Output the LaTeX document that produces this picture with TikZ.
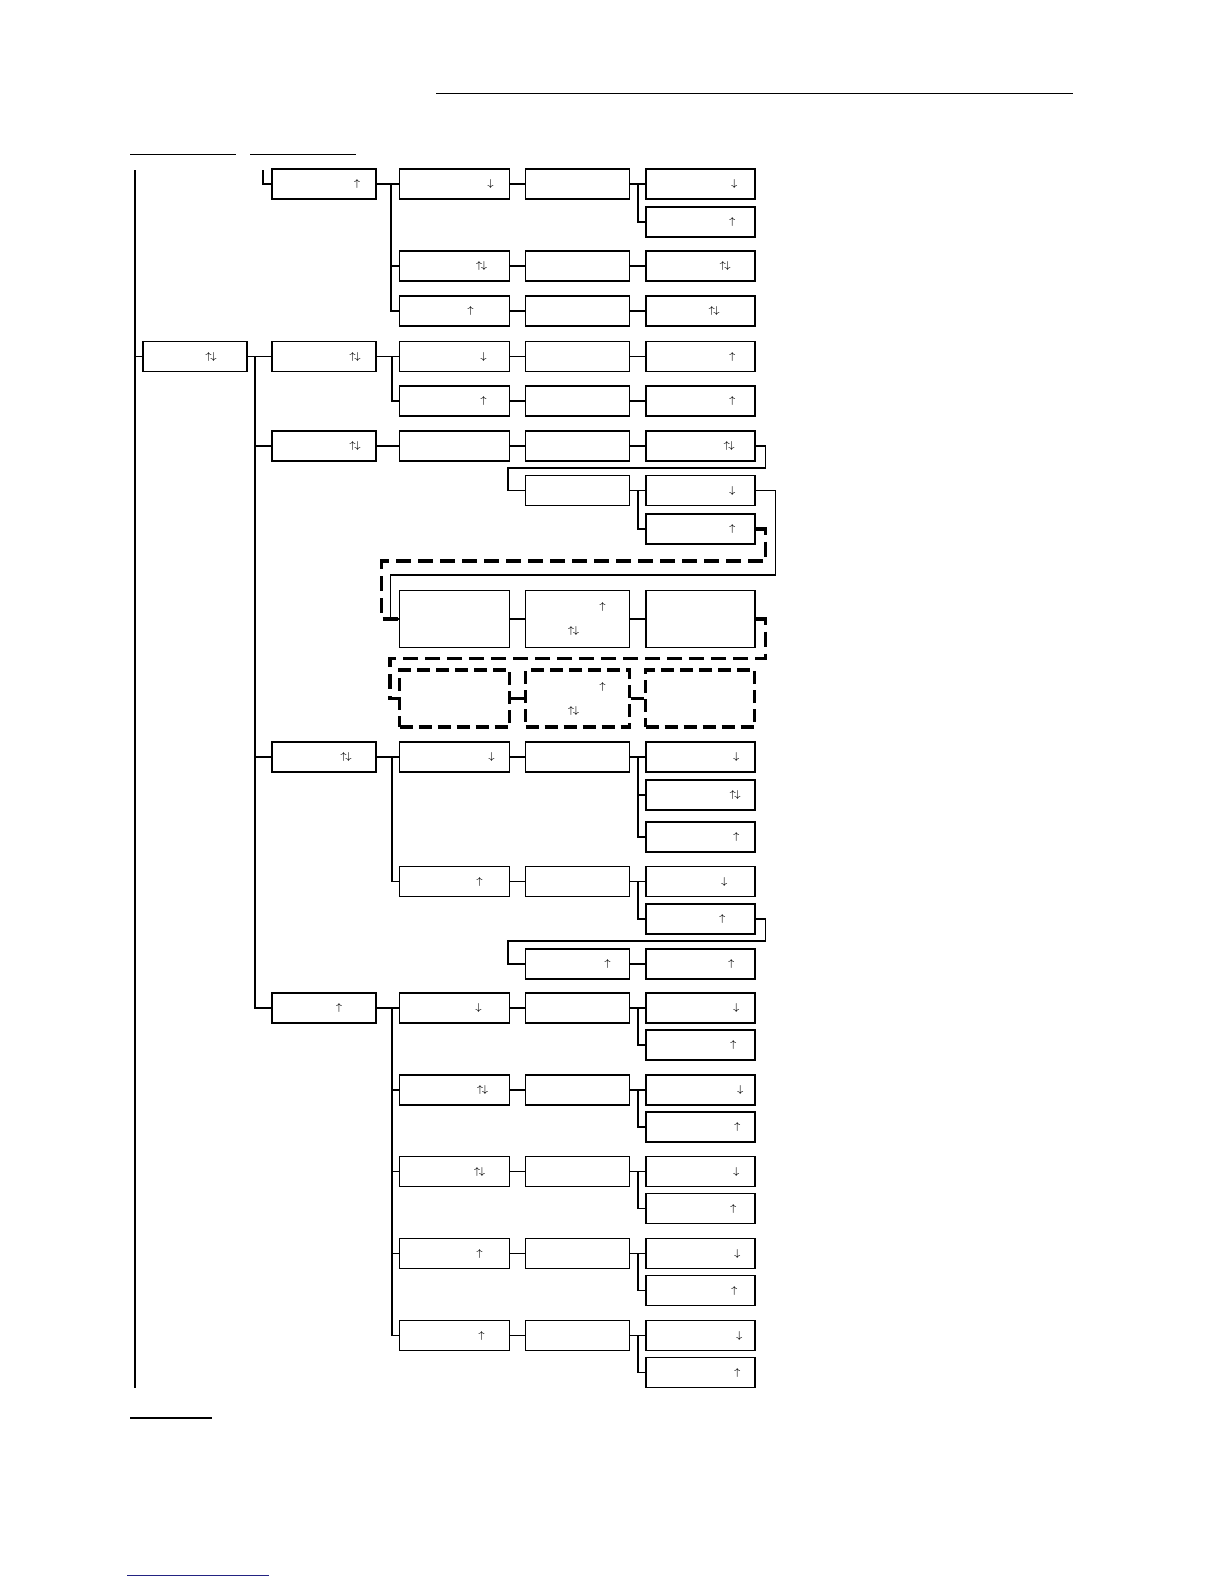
\documentclass[tikz,border=0pt]{standalone}
\usepackage{xcolor}
\usepackage{tikz}
\usetikzlibrary{arrows.meta,positioning}

\definecolor{linkblue}{RGB}{35,35,130}
\newcommand{\arrU}{$\uparrow$}
\newcommand{\arrD}{$\downarrow$}
\newcommand{\arrUD}{$\uparrow\!\downarrow$}
\newcommand{\keyarrow}[3]{\node[arw] (#1k) at ([xshift=#2*0.5pt]#1.center) {#3};}

\begin{document}
\begin{tikzpicture}[
  x=0.5pt, y=-0.5pt,
  menu/.style={draw, line width=0.9pt, minimum height=15pt,
    minimum width=52pt, inner sep=0pt},
  wide/.style={menu, minimum width=55pt},
  last/.style={menu, minimum width=54.5pt},
  tall/.style={minimum height=28.5pt},
  ghost/.style={line width=1.6pt, dash pattern=on 6.5pt off 3pt},
  arw/.style={font=\fontsize{5}{6}\selectfont, inner sep=0pt},
  link/.style={line width=0.6pt},
  bus/.style={line width=0.9pt},
  jump/.style={line width=1.6pt, dash pattern=on 7.5pt off 3.5pt},
  rule/.style={line width=0.5pt}
]
\useasboundingbox (0,0) rectangle (1224,1584);

\def\xA{195}
\def\xB{324}
\def\xC{454.5}
\def\xD{577.5}
\def\xE{700.2}

% Header rules
\coordinate (h1) at (436,94);   \coordinate (h2) at (1073,94);
\coordinate (h3) at (130,154);  \coordinate (h4) at (236,154);
\coordinate (h5) at (250,154);  \coordinate (h6) at (356,154);
\draw[rule] (h1) -- (h2);
\draw[rule] (h3) -- (h4);
\draw[rule] (h5) -- (h6);

% First branch
\coordinate (tk) at (263,170);
\node[menu] (b1) at (\xB,184) {};
\node[wide] (c1) at (\xC,184) {};
\node[menu] (d1) at (\xD,184) {};
\node[last] (e1) at (\xE,184) {};
\node[last] (e1b) at (\xE,222) {};
\node[wide] (c2) at (\xC,266) {};
\node[menu] (d2) at (\xD,266) {};
\node[last] (e2) at (\xE,266) {};
\node[wide] (c3) at (\xC,311) {};
\node[menu] (d3) at (\xD,311) {};
\node[last] (e3) at (\xE,311) {};

\keyarrow{b1}{33}{\arrU}
\keyarrow{c1}{36}{\arrD}
\keyarrow{e1}{34}{\arrD}
\keyarrow{e1b}{32}{\arrU}
\keyarrow{c2}{27}{\arrUD}
\keyarrow{e2}{25}{\arrUD}
\keyarrow{c3}{16}{\arrU}
\keyarrow{e3}{14}{\arrUD}

\coordinate (bus1) at (391,184);
\coordinate (dbus1) at (637.7,184);
\draw[link] (tk) |- (b1);
\draw[link] (b1) -- (c1);
\draw[bus] (bus1) |- (c2);
\draw[bus] (bus1) |- (c3);
\draw[link] (c1) -- (d1);
\draw[link] (d1) -- (e1);
\draw[bus] (dbus1) |- (e1b);
\draw[link] (c2) -- (d2);
\draw[link] (d2) -- (e2);
\draw[link] (c3) -- (d3);
\draw[link] (d3) -- (e3);

% Main menu
\coordinate (spinetop) at (135,170);
\coordinate (spinebot) at (135,1388);
\node[menu] (a) at (\xA,356.5) {};
\node[menu] (b2) at (\xB,356.5) {};
\node[wide] (c4) at (\xC,356.5) {};
\node[menu] (d4) at (\xD,356.5) {};
\node[last] (e4) at (\xE,356.5) {};
\node[wide] (c5) at (\xC,401) {};
\node[menu] (d5) at (\xD,401) {};
\node[last] (e5) at (\xE,401) {};

\keyarrow{a}{16}{\arrUD}
\keyarrow{b2}{31}{\arrUD}
\keyarrow{c4}{29}{\arrD}
\keyarrow{e4}{32}{\arrU}
\keyarrow{c5}{29}{\arrU}
\keyarrow{e5}{32}{\arrU}

\coordinate (abus) at (255,356.5);
\coordinate (bus2) at (392,356.5);
\draw[link] (spinetop) -- (spinebot);
\draw[link] (spinetop |- a) -- (a);
\draw[link] (a) -- (b2);
\draw[link] (b2) -- (c4);
\draw[bus] (bus2) |- (c5);
\draw[link] (c4) -- (d4);
\draw[link] (d4) -- (e4);
\draw[link] (c5) -- (d5);
\draw[link] (d5) -- (e5);

% Third branch with loops
\node[menu] (b3) at (\xB,446) {};
\node[wide] (c6) at (\xC,446) {};
\node[menu] (d6) at (\xD,446) {};
\node[last] (e6) at (\xE,446) {};
\node[menu] (d7) at (\xD,490.5) {};
\node[last] (e7) at (\xE,490.5) {};
\node[last] (e7b) at (\xE,529) {};
\node[wide, tall] (c8) at (\xC,619) {};
\node[menu, tall] (d8) at (\xD,619) {};
\node[last, tall] (e8) at (\xE,619) {};
\node[wide, tall, ghost] (c9) at (\xC,698.5) {};
\node[menu, tall, ghost] (d9) at (\xD,698.5) {};
\node[last, tall, ghost] (e9) at (\xE,698.5) {};

\keyarrow{b3}{31}{\arrUD}
\keyarrow{e6}{29}{\arrUD}
\keyarrow{e7}{32}{\arrD}
\keyarrow{e7b}{32}{\arrU}
\node[arw] (d8u) at ([xshift=12.5pt, yshift=6pt]d8.center) {\arrU};
\node[arw] (d8ud) at ([xshift=-2pt, yshift=-6pt]d8.center) {\arrUD};
\node[arw] (d9u) at ([xshift=12.5pt, yshift=6pt]d9.center) {\arrU};
\node[arw] (d9ud) at ([xshift=-2pt, yshift=-6pt]d9.center) {\arrUD};

\coordinate (dbus7) at (637.7,490.5);
\draw[link] (abus) |- (b3);
\draw[link] (b3) -- (c6);
\draw[link] (c6) -- (d6);
\draw[link] (d6) -- (e6);
\draw[link] (e6.east) -- ++(9.5,0) -- ++(0,22) -| ([xshift=-8.3pt]d7.west) -- (d7.west);
\draw[link] (d7) -- (e7);
\draw[bus] (dbus7) |- (e7b);
\draw[link] (e7.east) -- ++(19.5,0) -- ++(0,84.5) -| ([xshift=-4pt]c8.west) -- (c8.west);
\draw[jump] (e7b.east) -- ++(9.5,0) -- ++(0,32) -| ([xshift=-8.5pt]c8.west) -- (c8.west);
\draw[bus] (c8) -- (d8);
\draw[bus] (d8) -- (e8);
\draw[jump] (e8.east) -- ++(9.5,0) -- ++(0,39.5) -| ([xshift=-4pt]c9.west) -- (c9.west);
\draw[line width=1.2pt] (c9) -- (d9);
\draw[line width=1.2pt] (d9) -- (e9);

% Fourth branch
\node[menu] (b4) at (\xB,757) {};
\node[wide] (c10) at (\xC,757) {};
\node[menu] (d10) at (\xD,757) {};
\node[last] (e10) at (\xE,757) {};
\node[last] (e10b) at (\xE,795) {};
\node[last] (e10c) at (\xE,837) {};
\node[wide] (c12) at (\xC,881.5) {};
\node[menu] (d12) at (\xD,881.5) {};
\node[last] (e12) at (\xE,881.5) {};
\node[last] (e12b) at (\xE,919) {};
\node[menu] (d13) at (\xD,964) {};
\node[last] (e13) at (\xE,964) {};

\keyarrow{b4}{22}{\arrUD}
\keyarrow{c10}{37}{\arrD}
\keyarrow{e10}{36}{\arrD}
\keyarrow{e10b}{35}{\arrUD}
\keyarrow{e10c}{36}{\arrU}
\keyarrow{c12}{25}{\arrU}
\keyarrow{e12}{24}{\arrD}
\keyarrow{e12b}{22}{\arrU}
\keyarrow{d13}{30}{\arrU}
\keyarrow{e13}{31}{\arrU}

\coordinate (bus10) at (392,757);
\coordinate (dbus10) at (637.7,757);
\coordinate (dbus12) at (637.7,881.5);
\draw[link] (abus) |- (b4);
\draw[link] (b4) -- (c10);
\draw[bus] (bus10) |- (c12);
\draw[link] (c10) -- (d10);
\draw[link] (d10) -- (e10);
\draw[link] (dbus10) |- (e10b);
\draw[bus] (dbus10) |- (e10c);
\draw[bus] (c12) -- (d12);
\draw[bus] (d12) -- (e12);
\draw[bus] (dbus12) |- (e12b);
\draw[link] (e12b.east) -- ++(9.5,0) -- ++(0,22) -| ([xshift=-8.3pt]d13.west) -- (d13.west);
\draw[link] (d13) -- (e13);

% Fifth branch
\node[menu] (b5) at (\xB,1008) {};
\foreach \n/\y/\cu/\ca/\eu/\ea/\fu in {
    14/1008/24/\arrD/36/\arrD/33,
    15/1090/28/\arrUD/40/\arrD/37,
    16/1171.5/25/\arrUD/36/\arrD/33,
    17/1253.5/25/\arrU/37/\arrD/34,
    18/1335.5/27/\arrU/39/\arrD/37} {
  \node[wide] (c\n) at (\xC,\y) {};
  \node[menu] (d\n) at (\xD,\y) {};
  \node[last] (e\n) at (\xE,\y) {};
  \node[last] (e\n b) at (\xE,\y+37) {};
  \keyarrow{c\n}{\cu}{\ca}
  \keyarrow{e\n}{\eu}{\ea}
  \keyarrow{e\n b}{\fu}{\arrU}
  \coordinate (dbus\n) at (637.7,\y);
  \draw[link] (c\n) -- (d\n);
  \draw[link] (d\n) -- (e\n);
  \draw[bus] (dbus\n) |- (e\n b);
}
\keyarrow{b5}{15}{\arrU}

\coordinate (bus14) at (392,1008);
\draw[link] (abus) |- (b5);
\draw[link] (b5) -- (c14);
\foreach \n in {15,16,17,18}
  \draw[bus] (bus14) |- (c\n);

% Footer rules
\coordinate (f1) at (130,1418); \coordinate (f2) at (212,1418);
\coordinate (f3) at (127,1575); \coordinate (f4) at (269,1575);
\draw[line width=1pt] (f1) -- (f2);
\draw[rule, linkblue] (f3) -- (f4);

\end{tikzpicture}
\end{document}
